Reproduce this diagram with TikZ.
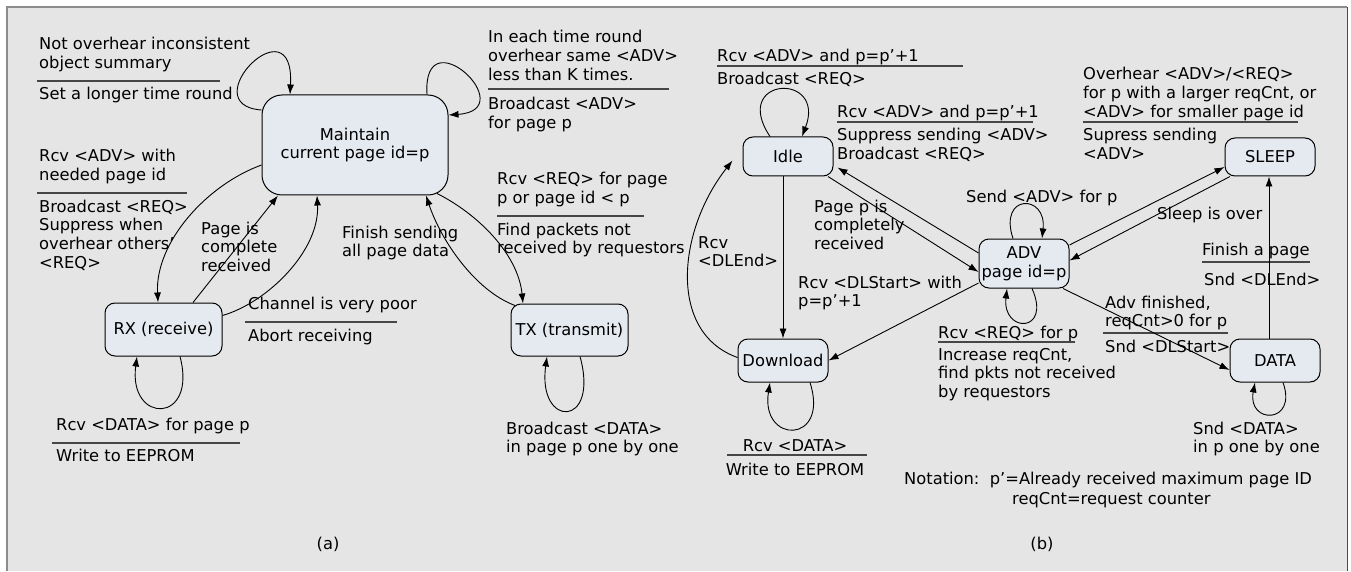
\documentclass[tikz,border=0pt]{standalone}
\usepackage{fontspec}
\setmainfont{DejaVu Sans}
\usetikzlibrary{arrows.meta,calc}
\definecolor{bg}{RGB}{229,229,229}
\definecolor{nodefill}{RGB}{229,233,240}
\definecolor{framegray}{RGB}{140,140,140}
\definecolor{rulegray}{RGB}{70,70,70}
\newcommand{\lns}[1]{\begin{tabular}[t]{@{}l@{}}#1\end{tabular}}
\begin{document}
\begin{tikzpicture}[x=1pt,y=-1pt,
  font=\fontsize{16.3}{18.7}\selectfont,
  st/.style={draw, fill=nodefill, rounded corners=10pt, line width=1pt, inner sep=2pt, align=center},
  lbl/.style={anchor=base west, inner sep=0pt},
  arr/.style={-{Latex[length=10pt,width=7pt]}, line width=0.9pt},
  rl/.style={draw=rulegray, line width=1.4pt}]
\fill[white] (0,0) rectangle (1351,571);
\fill[bg] (7,7) rectangle (1347,571);
\draw[framegray, line width=2pt] (7,571) -- (7,7) -- (1347,7);
\draw[black!70, line width=1pt] (1347,7) -- (1347,571);
\useasboundingbox (0,0) rectangle (1351,571);

% ---------- (a) nodes
\node[st, rounded corners=20pt, minimum width=186pt, minimum height=100pt] (M) at (355,145) {Maintain\\current page id=p};
\node[st, minimum width=117pt, minimum height=53pt] (RX) at (163.5,329.5) {RX (receive)};
\node[st, minimum width=117pt, minimum height=52pt] (TX) at (569.5,330) {TX (transmit)};

% ---------- (a) labels
\node[lbl] (la1) at (39,50) {\lns{Not overhear inconsistent\\object summary}};
\node[lbl] (la1b) at (39,100) {Set a longer time round};
\node[lbl] (la2) at (488,43) {\lns{In each time round\\overhear same <ADV>\\less than K times.}};
\node[lbl] (la2b) at (488,110) {\lns{Broadcast <ADV>\\for page p}};
\node[lbl] (la3) at (39,162) {\lns{Rcv <ADV> with\\needed page id}};
\node[lbl] (la3b) at (39,212) {\lns{Broadcast <REQ>\\Suppress when\\overhear others’\\<REQ>}};
\node[lbl] (la4) at (201,234) {\lns{Page is\\complete\\received}};
\node[lbl] (la5) at (248,309) {Channel is very poor};
\node[lbl] (la5b) at (248,341) {Abort receiving};
\node[lbl] (la6) at (342,238) {\lns{Finish sending\\all page data}};
\node[lbl] (la7) at (497,185) {\lns{Rcv <REQ> for page\\p or page id < p}};
\node[lbl] (la7b) at (497,235) {\lns{Find packets not\\received by requestors}};
\node[lbl] (la8) at (56,430) {Rcv <DATA> for page p};
\node[lbl] (la8b) at (56,461) {Write to EEPROM};
\node[lbl] (la9) at (506,434) {\lns{Broadcast <DATA>\\in page p one by one}};
\node (capa) at (328,544) {(a)};

\draw[rl] (37,81) -- (220,81);
\draw[rl] (488,89) -- (669,89);
\draw[rl] (37,193) -- (187,193);
\draw[rl] (245,322) -- (397,322);
\draw[rl] (497,216) -- (644,216);
\draw[rl] (52,443) -- (240,443);

% ---------- (a) connectors
\draw[arr] ([yshift=35pt]M.west) .. controls +(-70pt,5pt) and +(5pt,95pt) .. ([xshift=-65pt]M.north);
\draw[arr] ([xshift=72pt]M.north) .. controls +(-5pt,80pt) and +(75pt,5pt) .. ([yshift=30pt]M.east);
\draw[arr] ([yshift=-20pt]M.west) .. controls +(-55pt,-20pt) and +(-3pt,60pt) .. ([xshift=-5.5pt]RX.north);
\draw[arr] ([xshift=29.5pt]RX.north) -- ([xshift=-77pt]M.south);
\draw[arr] ([yshift=14pt]RX.east) .. controls +(45pt,13pt) and +(3pt,-55pt) .. ([xshift=-38pt]M.south);
\draw[arr] ([xshift=82pt,yshift=2pt]M.south) .. controls +(40pt,-20pt) and +(-5pt,50pt) .. ([xshift=-46.5pt]TX.north);
\draw[arr] ([xshift=-54.5pt,yshift=-2pt]TX.north) .. controls +(-40pt,15pt) and +(15pt,-45pt) .. ([xshift=71pt]M.south);
\draw[arr] ([xshift=16.5pt]RX.south) .. controls +(18pt,-68pt) and +(-9pt,-68pt) .. ([xshift=-26.5pt]RX.south);
\draw[arr] ([xshift=10.5pt]TX.south) .. controls +(20pt,-72pt) and +(-10pt,-72pt) .. ([xshift=-22.5pt]TX.south);

% ---------- (b) nodes
\node[st, minimum width=90pt, minimum height=39pt] (Idle) at (788,156.5) {Idle};
\node[st, minimum width=90pt, minimum height=49pt] (ADV) at (1024,263.5) {ADV\\page id=p};
\node[st, minimum width=90pt, minimum height=43pt] (DL) at (783,360.5) {Download};
\node[st, minimum width=90pt, minimum height=38pt] (SLEEP) at (1270,157) {SLEEP};
\node[st, minimum width=90pt, minimum height=43pt] (DATA) at (1275,360.5) {DATA};

% ---------- (b) labels
\node[lbl] (lb1) at (717,62) {Rcv <ADV> and p=p’+1};
\node[lbl] (lb1b) at (717,85) {Broadcast <REQ>};
\node[lbl] (lb2) at (837,118) {Rcv <ADV> and p=p’+1};
\node[lbl] (lb2b) at (837,141) {\lns{Suppress sending <ADV>\\Broadcast <REQ>}};
\node[lbl] (lb3) at (1083,80) {\lns{Overhear <ADV>/<REQ>\\for p with a larger reqCnt, or\\<ADV> for smaller page id}};
\node[lbl] (lb3b) at (1083,141) {\lns{Supress sending\\<ADV>}};
\node[lbl] (lb4) at (966,202) {Send <ADV> for p};
\node[lbl] (lb5) at (1157,219) {Sleep is over};
\node[lbl] (lb6) at (814,212) {\lns{Page p is\\completely\\received}};
\node[lbl] (lb7) at (698,248) {\lns{Rcv\\<DLEnd>}};
\node[lbl] (lb8) at (798,288) {\lns{Rcv <DLStart> with\\p=p’+1}};
\node[lbl] (lb9) at (1202,255) {Finish a page};
\node[lbl] (lb9b) at (1204,285) {Snd <DLEnd>};
\node[lbl] (lb10) at (1105,308) {\lns{Adv finished,\\reqCnt>0 for p}};
\node[lbl] (lb10b) at (1105,352) {Snd <DLStart>};
\node[lbl] (lb11) at (938,338) {Rcv <REQ> for p};
\node[lbl] (lb11b) at (938,360) {\lns{Increase reqCnt,\\find pkts not received\\by requestors}};
\node[anchor=base, inner sep=0pt] (lb12) at (795,451) {Rcv <DATA>};
\node[anchor=base, inner sep=0pt] (lb12b) at (795,475) {Write to EEPROM};
\node[lbl] (lb13) at (1193,434) {\lns{Snd <DATA>\\in p one by one}};
\node[lbl] (lb14) at (904,484) {Notation:\ \ p’=Already received maximum page ID};
\node[lbl] (lb14b) at (1012,504) {reqCnt=request counter};
\node (capb) at (1042,544) {(b)};

\draw[rl] (717,66) -- (963,66);
\draw[rl] (837,122) -- (1033,122);
\draw[rl] (1083,122) -- (1298,122);
\draw[rl] (1202,262) -- (1310,262);
\draw[rl] (1103,333) -- (1228,333);
\draw[rl] (938,342) -- (1075,342);
\draw[rl] (727,455) -- (867,455);

% ---------- (b) connectors
\draw[arr] ([xshift=-18pt]Idle.north) .. controls +(-40pt,60pt) and +(25pt,65pt) .. ([xshift=14pt]Idle.north);
\draw[arr] ([xshift=-5pt]Idle.south) -- (DL.north);
\draw[arr] ([yshift=3pt]DL.west) .. controls +(-70pt,25pt) and +(-55pt,-70pt) .. ([xshift=-10pt,yshift=-4pt]Idle.west);
\draw[arr] ([yshift=10.5pt]ADV.west) -- ([xshift=4pt,yshift=-11pt]Idle.east);
\draw[arr] ([xshift=40pt]Idle.south) -- ([yshift=-8.5pt]ADV.west);
\draw[arr] ([yshift=-19.5pt]ADV.west) -- (DL.east);
\draw[arr] ([yshift=18.5pt]ADV.east) -- ([yshift=-10pt]SLEEP.west);
\draw[arr] ([xshift=-40pt]SLEEP.south) -- ([yshift=3pt]ADV.east);
\draw[arr] ([xshift=39pt]ADV.south) -- ([yshift=-9.5pt]DATA.west);
\draw[arr] ([xshift=-6pt]DATA.north) -- ([xshift=-1pt]SLEEP.south);
\draw[arr] ([xshift=-11pt]ADV.north) .. controls +(-15pt,45pt) and +(5pt,45pt) .. ([xshift=18pt]ADV.north);
\draw[arr] ([xshift=8pt]ADV.south) .. controls +(20pt,-45pt) and +(-5pt,-45pt) .. ([xshift=-17pt]ADV.south);
\draw[arr] ([xshift=27pt]DL.south) .. controls +(20pt,-62pt) and +(-10pt,-62pt) .. ([xshift=-13pt]DL.south);
\draw[arr] ([xshift=8pt]DATA.south) .. controls +(15pt,-42pt) and +(-8pt,-42pt) .. ([xshift=-20pt]DATA.south);
\end{tikzpicture}
\end{document}
